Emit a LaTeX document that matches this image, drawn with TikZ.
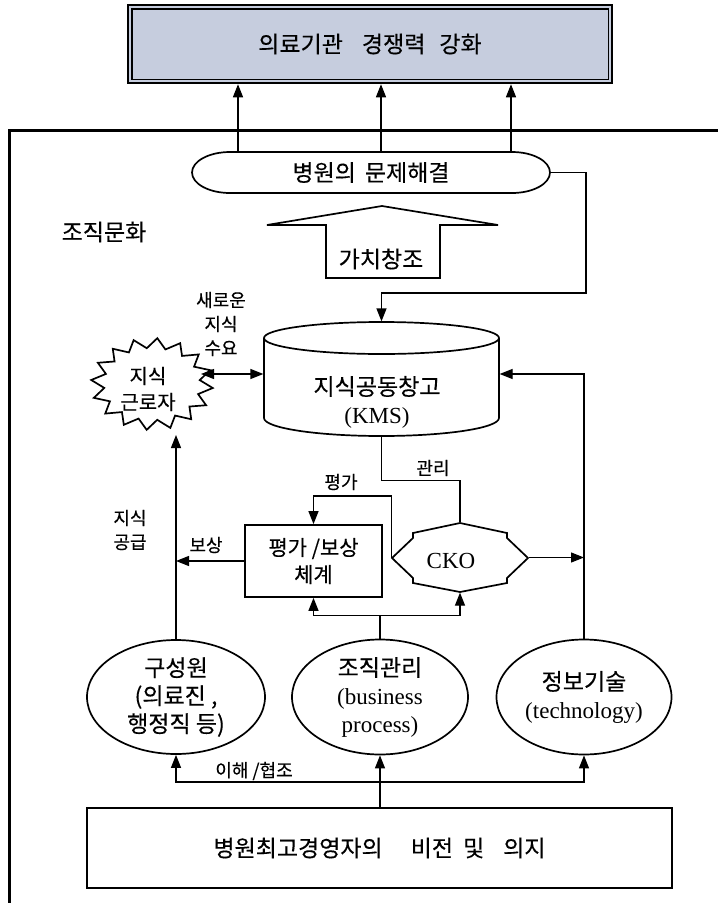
\documentclass[tikz,border=0pt]{standalone}
\usepackage{fontspec}
\setmainfont{Liberation Serif}
\newfontfamily\kr[FakeBold=0.3]{Noto Sans CJK KR}
\usetikzlibrary{arrows.meta,shapes.geometric}
\definecolor{topfill}{RGB}{198,205,222}
\newcommand{\kbig}{\kr\fontsize{23pt}{28pt}\selectfont}
\newcommand{\kmid}{\kr\fontsize{21pt}{27pt}\selectfont}
\newcommand{\kstar}{\kr\fontsize{20pt}{26pt}\selectfont}
\newcommand{\ksml}{\kr\fontsize{18pt}{24pt}\selectfont}
\newcommand{\lat}{\rmfamily\fontsize{23pt}{28pt}\selectfont}
\begin{document}
\begin{tikzpicture}[x=1pt,y=-1pt,
  line width=1.2pt,
  arr/.style={-{Triangle[length=13pt,width=10pt]}},
  darr/.style={{Triangle[length=13pt,width=10pt]}-{Triangle[length=13pt,width=10pt]}},
  shp/.style={line width=1.7pt},
  ghost/.style={inner sep=0pt, draw=none},
  lbl/.style={font=\ksml, inner sep=0pt, align=center},
  oval/.style={draw, shp, ellipse, inner sep=0pt, align=center, font=\kbig, fill=white},
  ]
\useasboundingbox (0,0) rectangle (718,903);
\fill[white] (0,0) rectangle (718,903);

% organisational culture frame
\draw[line width=3pt] (718,130) -- (9,130) -- (9,903);

% top goal box
\node[draw, line width=2.5pt, fill=topfill, minimum width=484pt, minimum height=78pt, inner sep=0pt, font=\kbig] (top) at (370,44) {의료기관\hspace{19pt}경쟁력\hspace{14pt}강화};
\draw[line width=1.5pt] ([shift={(5,5)}]top.north west) rectangle ([shift={(-5,-5)}]top.south east);

% problem solving oval
\draw[shp, fill=white] (230,152) -- (512,152) arc[start angle=90, end angle=-90, x radius=38pt, y radius=20.5pt] -- (230,193) arc[start angle=270, end angle=90, x radius=38pt, y radius=20.5pt] -- cycle;
\node[ghost, minimum width=358pt, minimum height=41pt, font=\kbig] (pe) at (371,172.5) {병원의\hspace{9pt}문제해결};

% value creation block arrow
\draw[shp, fill=white] (382,206) -- (498,225) -- (440,225) -- (440,278) -- (326,278) -- (326,225) -- (267,225) -- cycle;
\node[ghost, font=\kbig] (vc) at (381,259) {가치창조};

\node[ghost, font=\kbig] (oc) at (104,232) {조직문화};

% KMS cylinder
\draw[shp, fill=white] (264,338) -- (264,418) arc[start angle=180, end angle=360, x radius=117.5pt, y radius=18pt] -- (499,338);
\draw[shp] (381.5,338) ellipse [x radius=117.5pt, y radius=16pt];
\node[ghost, minimum width=235pt, minimum height=114pt] (kms) at (381.5,379) {};
\node[ghost, font=\kbig, align=center] (kmst) at (377,402) {지식공동창고\\{\lat (KMS)}};

% knowledge worker star
\draw[shp, fill=white] plot[samples at={0,...,31}] ({152+ifthenelse(mod(\x,2)==0,61,48)*cos(\x*11.25+5)}, {384+ifthenelse(mod(\x,2)==0,46,36)*sin(\x*11.25+5)}) -- cycle;
\node[ghost, font=\kstar, align=center] (sw) at (148,389) {지식\\근로자};
\coordinate (swE) at (201,374);
\coordinate (swS) at (0,435);

% labels
\node[lbl] (nk) at (221,324) {새로운\\지식\\수요};
\node[lbl] (ks) at (130,530) {지식\\공급};
\node[lbl] (rw) at (206,545) {보상};
\node[lbl] (ev) at (341,482) {평가};
\node[lbl] (mg) at (433,468) {관리};
\node[lbl] (uc) at (254,771) {이해 /협조};

% evaluation / reward box
\node[draw, shp, fill=white, minimum width=137pt, minimum height=72pt, inner sep=0pt, font=\kmid, align=center] (evb) at (313.5,561) {평가 /보상\\체계};

% CKO
\draw[shp, fill=white] (460,523) -- (413,533) -- (413,538) -- (392,558) -- (413,578) -- (413,583) -- (460,592) -- (507,583) -- (507,578) -- (528,558) -- (507,538) -- (507,533) -- cycle;
\node[ghost, minimum width=136pt, minimum height=69pt] (cko) at (460,557.5) {};
\node[ghost, font=\lat] (ckot) at (451,561) {CKO};

% three pillars
\node[oval, minimum width=178pt, minimum height=114pt] (mem) at (176,697) {구성원\\(의료진 ,\\행정직 등)};
\node[oval, minimum width=176pt, minimum height=115pt] (org) at (380,697) {조직관리\\{\lat (business}\\{\lat process)}};
\node[oval, minimum width=175pt, minimum height=115pt] (it) at (584,697) {정보기술\\{\lat (technology)}};

% vision box
\node[draw, shp, fill=white, minimum width=585pt, minimum height=80pt, inner sep=0pt, font=\kbig] (vis) at (379.5,848) {병원최고경영자의\hspace{28pt}비전\hspace{10pt}및\hspace{19pt}의지};

% connectors
\foreach \xx in {238,381,511} {
  \draw[arr] (pe.north -| \xx,0) -- (top.south -| \xx,0);
}
\draw[arr] (pe.east) -| (586,293) -| (kms.north);
\draw[darr] (swE) -- (swE -| kms.west);
\draw[arr] (it.north) |- (kms.east |- swE);
\draw[arr] (cko.east) -- (cko.east -| it.north);
\draw[arr] (mem.north) -- (mem.north |- swS);
\draw[arr] (evb.west) -- (evb.west -| mem.north);
\draw (kms.south) -- ++(0,44) -| (cko.north);
\draw[arr] (cko.west) -- (cko.west |- 0,496) -| (evb.north);
\draw (org.north) -- ++(0,-23) coordinate (j);
\draw[arr] (j) -| (evb.south);
\draw[arr] (j) -| (cko.south);
\draw[arr] (vis.north -| org.south) -- (org.south);
\coordinate (h) at (380,782);
\draw[arr] (h) -| (mem.south);
\draw[arr] (h) -| (it.south);
\end{tikzpicture}
\end{document}
